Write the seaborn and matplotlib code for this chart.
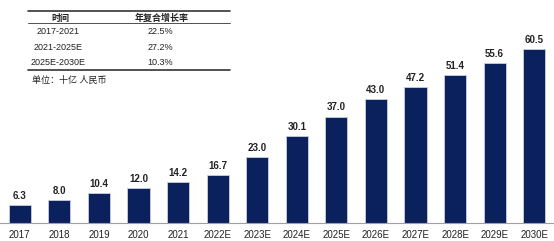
import matplotlib
matplotlib.use("Agg")
import matplotlib.pyplot as plt
import seaborn as sns
import pandas as pd
from matplotlib.lines import Line2D

years = ["2017", "2018", "2019", "2020", "2021", "2022E", "2023E", "2024E",
         "2025E", "2026E", "2027E", "2028E", "2029E", "2030E"]
values = [6.3, 8.0, 10.4, 12.0, 14.2, 16.7, 23.0, 30.1, 37.0, 43.0, 47.2, 51.4, 55.6, 60.5]

table_header = ["时间", "年复合增长率"]
periods = ["2017-2021", "2021-2025E", "2025E-2030E"]
cagr = ["22.5%", "27.2%", "10.3%"]
unit_note = "单位：十亿 人民币"

sns.set_theme(style="white")
plt.rcParams['font.family'] = ['Liberation Sans', 'Noto Sans CJK SC', 'DejaVu Sans']

W, H = 554, 241
fig = plt.figure(figsize=(W / 100, H / 100), dpi=100)
ax = fig.add_axes([0, (H - 223) / H, 1, 223 / H])

df = pd.DataFrame({"year": years, "value": values})
sns.barplot(data=df, x="year", y="value", color="#0b215e", width=0.56,
            saturation=1, ax=ax, edgecolor="#c8cfe0", linewidth=0.6)

ax.set_xlim(-0.5, len(years) - 0.5)
ax.set_ylim(0, 223 / 2.876)
for c in ax.containers:
    ax.bar_label(c, fmt="%.1f", padding=3, fontsize=7, color="#222222",
                 fontweight="bold")

ax.set_xlabel("")
ax.set_ylabel("")
ax.set_yticks([])
ax.tick_params(axis="x", length=0, pad=5, labelsize=7, labelcolor="#222222")
for s in ["top", "right", "left"]:
    ax.spines[s].set_visible(False)
ax.spines["bottom"].set_color("#a0a0a0")
ax.spines["bottom"].set_linewidth(0.8)

def fy(y):
    return 1 - y / H

def fx(x):
    return x / W

# table lines
for y, lw in [(11, 1.2), (23, 0.6), (70, 1.2)]:
    fig.add_artist(Line2D([fx(28), fx(230)], [fy(y), fy(y)], color="#333333", lw=lw))

fs = 6.5
fig.text(fx(60), fy(18), table_header[0], ha="center", va="center", fontsize=fs,
         fontweight="bold", color="#222222")
fig.text(fx(162), fy(18), table_header[1], ha="center", va="center", fontsize=fs,
         fontweight="bold", color="#222222")
for i, (p, c) in enumerate(zip(periods, cagr)):
    y = 32 + i * 15.2
    fig.text(fx(58), fy(y), p, ha="center", va="center", fontsize=fs, color="#222222")
    fig.text(fx(160), fy(y), c, ha="center", va="center", fontsize=fs, color="#222222")
fig.text(fx(32), fy(80), unit_note, ha="left", va="center", fontsize=fs, color="#222222")

fig.savefig("out.png", dpi=100)
